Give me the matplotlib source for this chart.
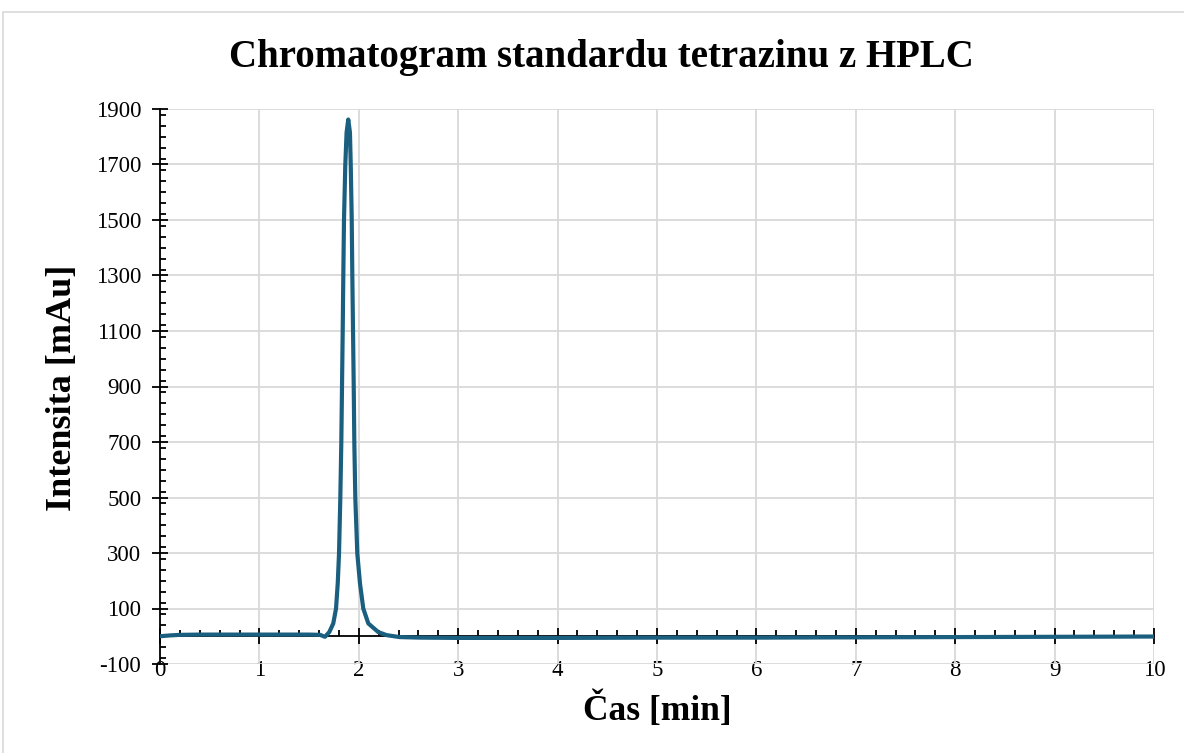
import matplotlib
matplotlib.use("Agg")
import matplotlib.pyplot as plt
import matplotlib.ticker as ticker
from matplotlib.patches import Rectangle

# hodnoty odečtené z chromatogramu
cas = [0, 0.1, 0.2, 0.4, 0.8, 1.2, 1.5, 1.61, 1.66, 1.703, 1.743, 1.771, 1.788,
       1.801, 1.814, 1.824, 1.831, 1.838, 1.844, 1.851, 1.864, 1.877, 1.894,
       1.911, 1.919, 1.929, 1.935, 1.942, 1.949, 1.955, 1.965, 1.985, 2.012,
       2.045, 2.096, 2.196, 2.28, 2.41, 2.62, 3.0, 4, 5, 6, 7, 8, 9, 10]
intenzita = [0, 3, 5, 6, 6, 6, 6, 5, -2, 15, 46, 100, 190,
             298, 498, 697, 898, 1097, 1295, 1499, 1697, 1815, 1862,
             1815, 1697, 1499, 1295, 1097, 898, 697, 498, 298, 190,
             100, 46, 15, 4, -3, -5, -6, -6, -5, -5, -4, -3, -2, -1]

x_ticks = list(range(0, 11))
y_ticks = list(range(-100, 2000, 200))

serif = ['Liberation Serif', 'DejaVu Serif']
plt.rcParams['font.family'] = serif
plt.rcParams['axes.unicode_minus'] = False

fig = plt.figure(figsize=(11.84, 7.53), dpi=100)
# rámeček kolem grafu
fig.patches.append(Rectangle((3 / 1184, -0.01), 1.1, 1 - 12 / 753 + 0.01,
                             transform=fig.transFigure, fill=False,
                             edgecolor='#d9d9d9', lw=1.2))

ax = fig.add_axes([160 / 1184, 1 - 664 / 753, 994 / 1184, 555 / 753])
ax.plot(cas, intenzita, color='#1a5f80', lw=3.0, solid_joinstyle='round', zorder=3)

ax.set_xlim(0, 10)
ax.set_ylim(-100, 1900)
ax.set_xticks(x_ticks)
ax.set_yticks(y_ticks)
ax.xaxis.set_minor_locator(ticker.MultipleLocator(0.2))
ax.yaxis.set_minor_locator(ticker.MultipleLocator(40))

ax.grid(True, which='major', color='#d9d9d9', lw=1.3, zorder=0)
ax.set_axisbelow(True)

for s in ['top', 'right']:
    ax.spines[s].set_visible(False)
ax.spines['bottom'].set_position(('data', 0))
ax.spines['bottom'].set_zorder(2.5)
ax.spines['left'].set_linewidth(1.3)
ax.spines['bottom'].set_linewidth(1.3)

ax.tick_params(axis='x', which='major', direction='inout', length=11, width=1.3,
               labelbottom=False)
ax.tick_params(axis='x', which='minor', direction='in', length=4.5, width=1.3)
ax.tick_params(axis='y', which='major', direction='inout', length=11, width=1.3,
               labelsize=16.5, pad=8)
ax.tick_params(axis='y', which='minor', direction='in', length=4.5, width=1.3)

# popisky osy x dole (pod -100)
sec = ax.secondary_xaxis('bottom')
sec.set_xticks(x_ticks)
sec.spines['bottom'].set_visible(False)
sec.tick_params(length=0, labelsize=16.5, pad=-3)

fig.text(0.508, 0.924, 'Chromatogram standardu tetrazinu z HPLC',
         ha='center', va='center', fontsize=28, fontweight='bold')
fig.text(0.555, 0.057, 'Čas [min]', ha='center', va='center',
         fontsize=25.5, fontweight='bold')
fig.text(0.053, 0.485, 'Intensita [mAu]', ha='center', va='center',
         rotation=90, fontsize=26, fontweight='bold')

fig.savefig('out.png', dpi=100)
